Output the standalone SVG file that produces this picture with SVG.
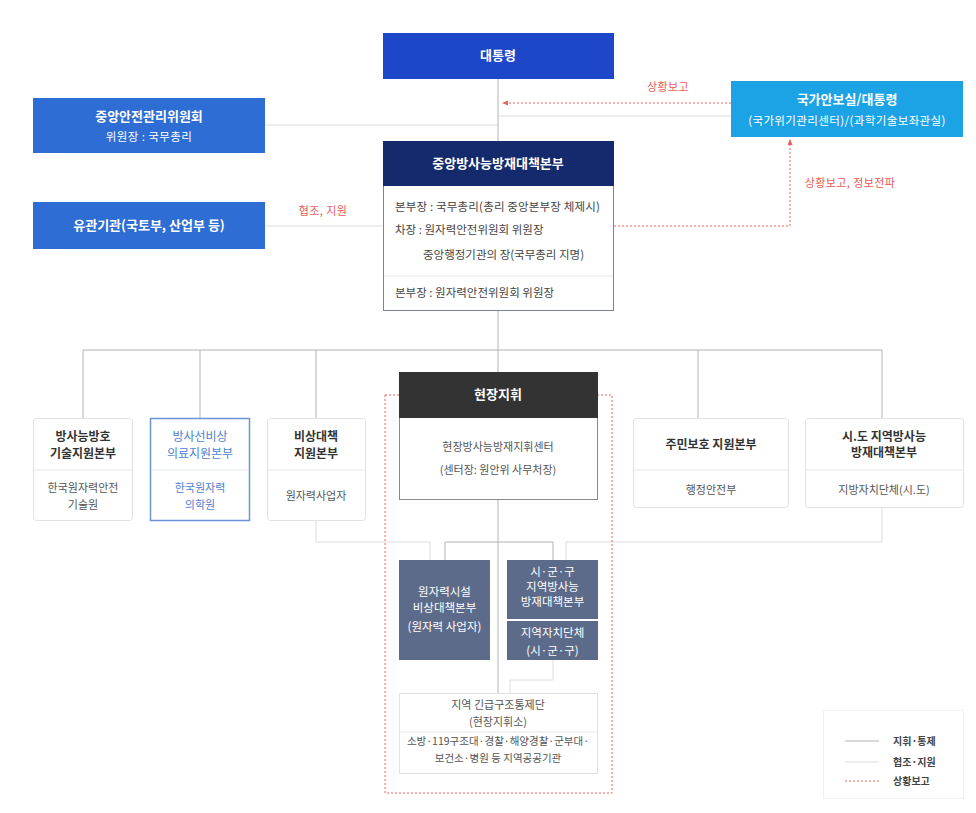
<svg xmlns="http://www.w3.org/2000/svg" width="976" height="813" viewBox="0 0 976 813">
<style>
text{font-family:"Noto Sans CJK KR","Noto Sans",sans-serif;}
.w{fill:#fff;font-size:13px;font-weight:bold;text-anchor:middle;}
.ws{fill:#fff;font-size:11.5px;letter-spacing:0.4px;text-anchor:middle;}
.t{fill:#333;font-size:12px;font-weight:bold;text-anchor:middle;}
.s{fill:#555;font-size:11px;text-anchor:middle;}
.b{fill:#444;font-size:11.5px;}
.r{fill:#ea5a5a;font-size:11px;letter-spacing:0.4px;text-anchor:middle;}
.ctl{stroke:#b3b3b3;stroke-width:1;fill:none;}
.sup{stroke:#dcdcdc;stroke-width:1;fill:none;}
.rep{stroke:#ec6060;stroke-width:1;stroke-dasharray:2 2;fill:none;}
.card{fill:#fff;stroke:#e2e2e2;stroke-width:1;}
.dv{stroke:#e6e6e6;stroke-width:1;}
.slate{fill:#5c6b8a;}
.lg{font-size:10px;font-weight:bold;fill:#444;}
</style>
<defs>
<marker id="ah" viewBox="0 0 6 6" refX="5" refY="3" markerWidth="6" markerHeight="6" orient="auto">
<path d="M0,0.5 L6,3 L0,5.5 z" fill="#ec6060"/>
</marker>
</defs>
<rect width="976" height="813" fill="#fff"/>

<g id="connectors">
<line class="ctl" x1="498" y1="79" x2="498" y2="141"/>
<line class="sup" x1="265" y1="125" x2="498" y2="125"/>
<line class="sup" x1="498" y1="116" x2="731" y2="116"/>
<line class="sup" x1="265" y1="226" x2="383" y2="226"/>
<line class="rep" x1="731" y1="103" x2="503" y2="103" marker-end="url(#ah)"/>
<polyline class="rep" points="614,226 790,226 790,140" marker-end="url(#ah)"/>
<line class="ctl" x1="498" y1="311" x2="498" y2="372"/>
<polyline class="ctl" points="83,418 83,350 882,350 882,418"/>
<line class="ctl" x1="200" y1="350" x2="200" y2="418"/>
<line class="ctl" x1="316" y1="350" x2="316" y2="418"/>
<line class="ctl" x1="698" y1="350" x2="698" y2="418"/>
<line class="ctl" x1="498" y1="500" x2="498" y2="693"/>
<polyline class="ctl" points="445,560 445,542 553,542 553,560"/>
<polyline class="sup" points="316,520 316,542 430,542 430,560"/>
<polyline class="sup" points="882,507 882,542 566,542 566,560"/>
<polyline class="sup" points="553,660 553,680 510,680 510,693"/>
<rect class="rep" x="385" y="395" width="227" height="398"/>
<text class="r" x="668" y="91">상황보고</text>
<text class="r" x="323" y="215">협조, 지원</text>
<text class="r" x="850" y="187">상황보고, 정보전파</text>
</g>

<g id="president">
<rect x="383" y="33" width="231" height="46" fill="#1e46c8"/>
<text class="w" x="498" y="60">대통령</text>
</g>

<g id="central-safety">
<rect x="33" y="98" width="232" height="55" fill="#2e6dd3"/>
<text class="w" x="149" y="121">중앙안전관리위원회</text>
<text class="ws" x="149" y="141">위원장 : 국무총리</text>
</g>

<g id="related-agencies">
<rect x="33" y="202" width="232" height="47" fill="#2e6dd3"/>
<text class="w" x="149" y="230">유관기관(국토부, 산업부 등)</text>
</g>

<g id="national-security">
<rect x="731" y="81" width="232" height="56" fill="#1ba3e6"/>
<text class="w" x="847" y="104">국가안보실/대통령</text>
<text class="ws" x="847" y="125">(국가위기관리센터)/(과학기술보좌관실)</text>
</g>

<g id="central-hq">
<rect x="383.5" y="141.5" width="230" height="169" fill="#fff" stroke="#7c8398"/>
<rect x="383" y="141" width="231" height="45" fill="#15296d"/>
<text class="w" x="498" y="168">중앙방사능방재대책본부</text>
<text class="b" x="395" y="211" textLength="205" lengthAdjust="spacing">본부장 : 국무총리(총리 중앙본부장 체제시)</text>
<text class="b" x="395" y="234">차장 : 원자력안전위원회 위원장</text>
<text class="b" x="423" y="259">중앙행정기관의 장(국무총리 지명)</text>
<line class="dv" x1="384" y1="276" x2="613" y2="276"/>
<text class="b" x="395" y="297">본부장 : 원자력안전위원회 위원장</text>
</g>

<g id="tech-support">
<rect class="card" x="33.5" y="418.5" width="99" height="102" rx="3"/>
<text class="t" x="83" y="441">방사능방호</text>
<text class="t" x="83" y="458">기술지원본부</text>
<line class="dv" x1="34" y1="470" x2="132" y2="470"/>
<text class="s" x="83" y="492">한국원자력안전</text>
<text class="s" x="83" y="509">기술원</text>
</g>

<g id="medical-support">
<rect x="150.5" y="418.5" width="99" height="102" fill="#fff" stroke="#6b93da" stroke-width="1.5"/>
<text class="t" x="200" y="441" style="fill:#4d7fd2;font-weight:normal">방사선비상</text>
<text class="t" x="200" y="458" style="fill:#4d7fd2;font-weight:normal">의료지원본부</text>
<line x1="151" y1="470" x2="249" y2="470" stroke="#e3eaf7"/>
<text class="s" x="200" y="492" style="fill:#4d7fd2">한국원자력</text>
<text class="s" x="200" y="509" style="fill:#4d7fd2">의학원</text>
</g>

<g id="emergency-support">
<rect class="card" x="267.5" y="418.5" width="98" height="102" rx="3"/>
<text class="t" x="316" y="441">비상대책</text>
<text class="t" x="316" y="458">지원본부</text>
<line class="dv" x1="268" y1="470" x2="365" y2="470"/>
<text class="s" x="316" y="500">원자력사업자</text>
</g>

<g id="field-command">
<rect x="399.5" y="372.5" width="198" height="127" fill="#fff" stroke="#8a8a8a"/>
<rect x="399" y="372" width="199" height="46" fill="#333"/>
<text class="w" x="498" y="399">현장지휘</text>
<text class="s" x="498" y="451">현장방사능방재지휘센터</text>
<text class="s" x="498" y="474">(센터장: 원안위 사무처장)</text>
</g>

<g id="resident-support">
<rect class="card" x="633.5" y="418.5" width="155" height="89" rx="3"/>
<text class="t" x="711" y="449">주민보호 지원본부</text>
<line class="dv" x1="634" y1="470" x2="788" y2="470"/>
<text class="s" x="711" y="494">행정안전부</text>
</g>

<g id="regional-hq">
<rect class="card" x="805.5" y="418.5" width="158" height="89" rx="3"/>
<text class="t" x="884" y="441">시.도 지역방사능</text>
<text class="t" x="884" y="457">방재대책본부</text>
<line class="dv" x1="806" y1="470" x2="963" y2="470"/>
<text class="s" x="884" y="494">지방자치단체(시.도)</text>
</g>

<g id="nuclear-facility">
<rect class="slate" x="399" y="560" width="91" height="100"/>
<text class="ws" x="444.5" y="596" style="letter-spacing:0">원자력시설</text>
<text class="ws" x="444.5" y="612" style="letter-spacing:0">비상대책본부</text>
<text class="ws" x="444.5" y="631" style="letter-spacing:0">(원자력 사업자)</text>
</g>

<g id="local-hq">
<rect class="slate" x="507" y="560" width="91" height="59"/>
<text class="ws" x="552.5" y="576" style="letter-spacing:0">시·군·구</text>
<text class="ws" x="552.5" y="591" style="letter-spacing:0">지역방사능</text>
<text class="ws" x="552.5" y="606" style="letter-spacing:0">방재대책본부</text>
<rect class="slate" x="507" y="621" width="91" height="39"/>
<text class="ws" x="552.5" y="637" style="letter-spacing:0">지역자치단체</text>
<text class="ws" x="552.5" y="655" style="letter-spacing:0">(시·군·구)</text>
</g>

<g id="rescue-control">
<rect class="card" x="399.5" y="693.5" width="198" height="80"/>
<text class="s" x="498" y="709">지역 긴급구조통제단</text>
<text class="s" x="498" y="726">(현장지휘소)</text>
<line class="dv" x1="400" y1="732" x2="597" y2="732"/>
<text class="s" x="498" y="745" style="font-size:10.5px">소방·119구조대·경찰·해양경찰·군부대·</text>
<text class="s" x="498" y="762" style="font-size:10.5px">보건소·병원 등 지역공공기관</text>
</g>

<g id="legend">
<rect x="823.5" y="710.5" width="140" height="88" fill="#fff" stroke="#f0f0f0"/>
<line class="ctl" x1="845" y1="741" x2="879" y2="741"/>
<line class="sup" x1="845" y1="762" x2="879" y2="762"/>
<line class="rep" x1="845" y1="781" x2="879" y2="781"/>
<text class="lg" x="893" y="745">지휘·통제</text>
<text class="lg" x="893" y="766">협조·지원</text>
<text class="lg" x="893" y="785">상황보고</text>
</g>
</svg>
